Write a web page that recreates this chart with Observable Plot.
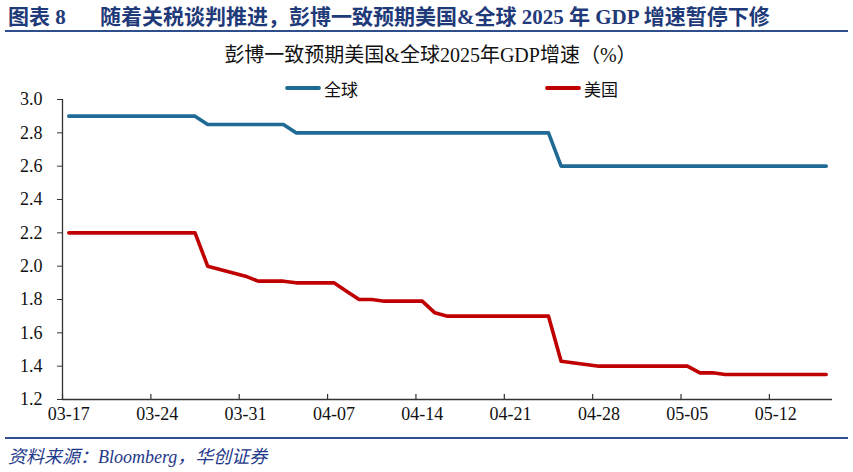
<!DOCTYPE html>
<html><head><meta charset="utf-8">
<script src="https://cdn.jsdelivr.net/npm/d3@7"></script>
<script src="https://cdn.jsdelivr.net/npm/@observablehq/plot@0.6"></script>
<style>
body{margin:0;background:#fff;}
#wrap{position:relative;width:853px;height:472px;overflow:hidden;font-family:"Liberation Serif","Noto Sans CJK SC",serif;color:#111;}
.abs{position:absolute;white-space:nowrap;}
</style></head><body>
<div id="wrap">
  <div class="abs" style="left:8px;top:4px;font-size:21px;font-weight:bold;color:#1F3A78;line-height:26px">图表 8</div>
  <div class="abs" style="left:100px;top:4px;font-size:21px;font-weight:bold;color:#1F3A78;line-height:26px">随着关税谈判推进，彭博一致预期美国&amp;全球 2025 年 GDP 增速暂停下修</div>
  <div class="abs" style="left:5px;top:30px;width:843px;height:2px;background:#2E4E8C"></div>
  <div class="abs" style="left:4px;top:42px;width:853px;text-align:center;font-size:20px;line-height:26px;color:#111">彭博一致预期美国&amp;全球2025年GDP增速（%）</div>
  <div id="legend"></div>
  <div class="abs" id="chart" style="left:0;top:90px"></div>
  <div class="abs" style="left:5px;top:437px;width:843px;height:2px;background:#2E4E8C"></div>
  <div class="abs" style="left:8px;top:446px;font-size:18px;font-style:italic;color:#1F3A8A;line-height:22px">资料来源：Bloomberg，华创证券</div>
</div>
<script>
// ---- data ----
const seriesNames = ["全球", "美国"];
const seriesColors = ["#1F6B95", "#C00000"];
const tickLabels = ["03-17","03-24","03-31","04-07","04-14","04-21","04-28","05-05","05-12"];
const yTicks = [1.2, 1.4, 1.6, 1.8, 2.0, 2.2, 2.4, 2.6, 2.8, 3.0];
const dates = [
  "2025-03-17","2025-03-18","2025-03-19","2025-03-20","2025-03-21",
  "2025-03-24","2025-03-25","2025-03-26","2025-03-27","2025-03-28",
  "2025-03-31","2025-04-01","2025-04-02","2025-04-03","2025-04-04",
  "2025-04-07","2025-04-08","2025-04-09","2025-04-10","2025-04-11",
  "2025-04-14","2025-04-15","2025-04-16","2025-04-17","2025-04-18",
  "2025-04-21","2025-04-22","2025-04-23","2025-04-24","2025-04-25",
  "2025-04-28","2025-04-29","2025-04-30","2025-05-01","2025-05-02",
  "2025-05-05","2025-05-06","2025-05-07","2025-05-08","2025-05-09",
  "2025-05-12","2025-05-13","2025-05-14","2025-05-15","2025-05-16"
];
const globalGDP = [
  2.9,2.9,2.9,2.9,2.9,
  2.9,2.9,2.9,2.9,2.85,
  2.85,2.85,2.85,2.85,2.8,
  2.8,2.8,2.8,2.8,2.8,
  2.8,2.8,2.8,2.8,2.8,
  2.8,2.8,2.8,2.8,2.6,
  2.6,2.6,2.6,2.6,2.6,
  2.6,2.6,2.6,2.6,2.6,
  2.6,2.6,2.6,2.6,2.6
];
const usGDP = [
  2.2,2.2,2.2,2.2,2.2,
  2.2,2.2,2.2,2.2,2.0,
  1.94,1.91,1.91,1.91,1.90,
  1.90,1.85,1.80,1.80,1.79,
  1.79,1.72,1.70,1.70,1.70,
  1.70,1.70,1.70,1.70,1.43,
  1.40,1.40,1.40,1.40,1.40,
  1.40,1.36,1.36,1.35,1.35,
  1.35,1.35,1.35,1.35,1.35
];

// ---- build ----
const HALF = 12 * 3600 * 1000;
const parse = s => new Date(s + "T00:00:00Z");
const rows = [];
[globalGDP, usGDP].forEach((vals, i) => {
  vals.forEach((v, j) => rows.push({date: new Date(parse(dates[j]).getTime() + HALF), value: v, series: seriesNames[i]}));
});
const xStart = parse(dates[0]);
const xEnd = d3.utcDay.offset(parse(dates[dates.length - 1]), 1);
const tickDays = tickLabels.map(s => parse("2025-" + s));
const tickNoons = tickDays.map(d => new Date(d.getTime() + HALF));

const axisColor = "#333";
const chart = Plot.plot({
  width: 853,
  height: 342,
  marginTop: 9,
  marginBottom: 33,
  marginLeft: 62,
  marginRight: 21,
  style: {fontFamily: "Liberation Serif, serif", fontSize: "18px", color: "#111", background: "transparent"},
  x: {type: "utc", domain: [xStart, xEnd]},
  y: {domain: [yTicks[0], yTicks[yTicks.length - 1]]},
  color: {domain: seriesNames, range: seriesColors},
  marks: [
    Plot.ruleY([yTicks[0]], {stroke: axisColor, strokeWidth: 1.3}),
    Plot.ruleX([xStart], {stroke: axisColor, strokeWidth: 1.3}),
    Plot.tickX(tickDays, {x: d => d, stroke: axisColor, strokeWidth: 1.2, insetTop: 295}),
    Plot.axisX(tickNoons, {tickSize: 0, tickPadding: 8, tickFormat: d3.utcFormat("%m-%d"), label: null}),
    Plot.axisY(yTicks, {tickSize: 5, tickPadding: 15, tickFormat: d => d.toFixed(1), stroke: axisColor, label: null}),
    Plot.line(rows, {x: "date", y: "value", z: "series", stroke: "series", strokeWidth: 3.6, strokeLinecap: "round", strokeLinejoin: "round"})
  ]
});
document.getElementById("chart").appendChild(chart);

// ---- legend ----
const legendLeft = [285, 545];
const legend = document.getElementById("legend");
seriesNames.forEach((name, i) => {
  const item = document.createElement("div");
  item.className = "abs";
  item.style.cssText = `left:${legendLeft[i]}px;top:77px;height:22px;display:flex;align-items:center;font-size:17px;font-family:'Noto Sans CJK SC',sans-serif;color:#111`;
  item.innerHTML = `<svg width="36" height="8" style="margin-right:3px"><line x1="2" y1="4" x2="34" y2="4" stroke="${seriesColors[i]}" stroke-width="3.8" stroke-linecap="round"/></svg><span>${name}</span>`;
  legend.appendChild(item);
});
</script>
</body></html>
